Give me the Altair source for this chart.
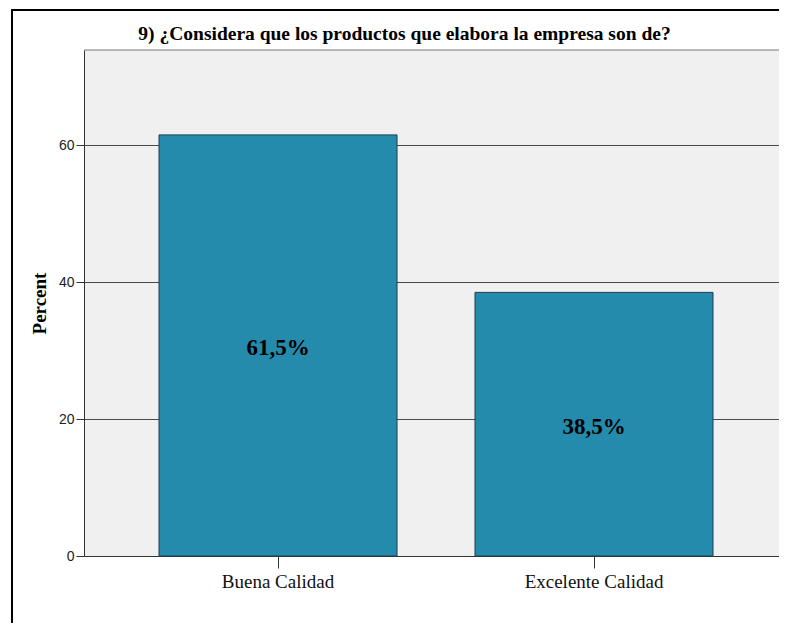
import altair as alt
import pandas as pd

categories = ["Buena Calidad", "Excelente Calidad"]
percents = [61.5, 38.5]
labels = ["61,5%", "38,5%"]
title_text = "9) ¿Considera que los productos que elabora la empresa son de?"

df = pd.DataFrame({"cat": categories, "pct": percents, "label": labels})

SERIF = "Liberation Serif"
SANS = "Liberation Sans"
W = 695
H = 506

x_scale = alt.Scale(paddingInner=0.2468, paddingOuter=0.2231, align=0.532)

x_enc = alt.X(
    "cat:N",
    sort=categories,
    scale=x_scale,
    axis=alt.Axis(
        title=None, labelAngle=0, labelFont=SERIF, labelFontSize=19,
        labelColor="#111", tickSize=12, tickColor="#333", tickWidth=1,
        domainColor="#333", domainWidth=1, labelPadding=4, grid=False,
    ),
)

base = alt.Chart(df)

bars = base.mark_bar(fill="#258BAC", stroke="#1d3e4e", strokeWidth=1).encode(
    x=x_enc,
    y=alt.Y(
        "pct:Q",
        scale=alt.Scale(domain=[0, 73.9], nice=False, zero=True),
        axis=alt.Axis(
            title="Percent", titleFont=SERIF, titleFontSize=19, titleFontWeight="bold",
            titleColor="#000", titlePadding=9, values=[0, 20, 40, 60],
            labelFont=SANS, labelFontSize=14, labelColor="#222", labelPadding=2,
            tickSize=8, tickColor="#333", domainColor="#333", domainWidth=1,
            grid=True, gridColor="#4a4a4a", gridWidth=1,
        ),
    ),
)

text = base.transform_calculate(mid="datum.pct / 2").mark_text(
    font=SERIF, fontSize=23, fontWeight="bold", color="#000", baseline="middle", dy=3
).encode(x=alt.X("cat:N", sort=categories, scale=x_scale), y=alt.Y("mid:Q"), text="label:N")

one = pd.DataFrame({"t": [title_text]})

frame = alt.Chart(one).mark_rect(
    fill="transparent", stroke="#000", strokeWidth=2, clip=False
).encode(
    x=alt.value(-72), x2=alt.value(1200), y=alt.value(-40), y2=alt.value(1000)
)

top_border = alt.Chart(one).mark_rule(color="#777", strokeWidth=1).encode(
    x=alt.value(0), x2=alt.value(W), y=alt.value(0)
)

title = alt.Chart(one).mark_text(
    font=SERIF, fontSize=19.5, fontWeight="bold", color="#000",
    align="center", baseline="alphabetic", clip=False,
).encode(x=alt.value(320.5), y=alt.value(-10), text="t:N")

chart = alt.layer(frame, bars, text, top_border, title).properties(
    width=W,
    height=H,
    autosize=alt.AutoSizeParams(type="none"),
    padding={"left": 76, "top": 42, "right": 0, "bottom": 67},
).configure_view(fill="#F0F0F0", stroke=None)

chart.save("out.html", embed_options={"renderer": "svg", "actions": False})
